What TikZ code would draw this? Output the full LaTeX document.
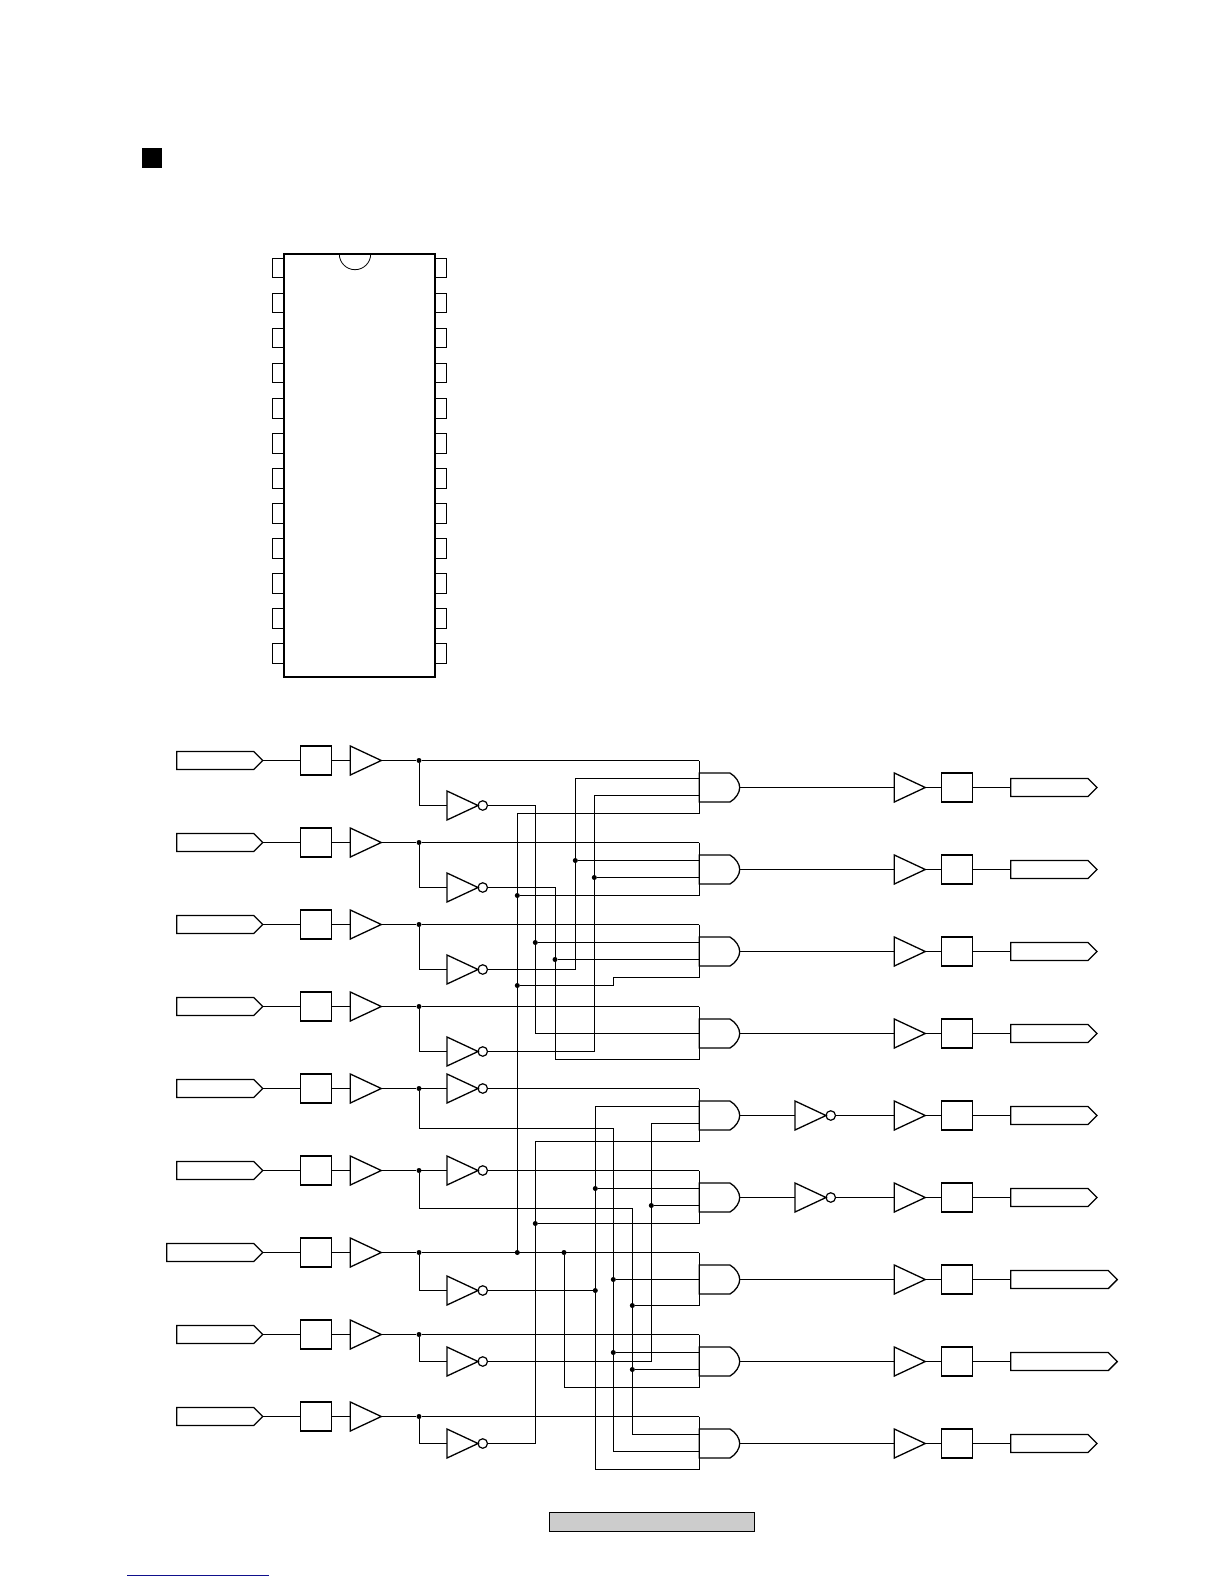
\documentclass[tikz,border=0pt]{standalone}
\usepackage{xcolor}
\usepackage{tikz}
\usetikzlibrary{shapes.geometric,shapes.symbols}
\definecolor{linkblue}{RGB}{15,15,140}
\tikzset{
    wire/.style={line width=1pt},
    dot/.style={circle,fill=black,inner sep=0pt,minimum size=5pt},
    tag/.style={signal,signal to=east,signal from=nowhere,draw,line width=1.3pt,inner sep=0pt,outer sep=0pt,minimum height=18pt},
    latch/.style={rectangle,draw,line width=1.3pt,inner sep=0pt,outer sep=0pt,minimum width=31pt,minimum height=29pt},
    buf/.style={isosceles triangle,isosceles triangle stretches,draw,line width=1.3pt,inner sep=0pt,outer sep=0pt,minimum width=29pt,minimum height=31pt,anchor=lower side},
    bub/.style={circle,draw,line width=1.2pt,inner sep=0pt,outer sep=0pt,minimum size=9.5pt,anchor=west},
    andbox/.style={rectangle,inner sep=0pt,outer sep=0pt,minimum width=40.4pt,minimum height=29pt,anchor=west},
    pin/.style={rectangle,draw,line width=.8pt,inner sep=0pt,outer sep=0pt,minimum width=11.5pt,minimum height=19.4pt}
}
\begin{document}
\begin{tikzpicture}[x=1pt,y=-1pt]
    \useasboundingbox (0,0) rectangle (1224,1584);
    \node[fill=black,inner sep=0pt,minimum size=20pt] (mark) at (152,158) {};
    \foreach \n in {0,...,11}{
        \node[pin,anchor=east] (lp\n) at (283.7,268+35.05*\n) {};
        \node[pin,anchor=west] (rp\n) at (435,268+35.05*\n) {};
    }
    \node[draw,line width=2pt,fill=white,inner sep=0pt,minimum width=151.3pt,minimum height=423pt] (ic) at (359.35,465.5) {};
    \draw[line width=.8pt] (339.3,254) arc[start angle=180,end angle=0,radius=15.7];
    \foreach \r/\w in {1/86,2/86,3/86,4/86,5/86,6/86,7/96,8/86,9/86}{
        \node[tag,minimum width=\w pt,anchor=east] (in\r) at (262.7,760.5+82*\r-82) {};
        \node[latch] (box\r) at (316.2,760.5+82*\r-82) {};
        \node[buf] (buf\r) at (350.3,760.5+82*\r-82) {};
        \node[dot] (jn\r) at (419,760.5+82*\r-82) {};
        \draw[wire] (in\r.east) -- (box\r.west);
        \draw[wire] (box\r.east) -- (buf\r.lower side);
        \draw[wire] (buf\r.apex) -- (jn\r);
    }
    \foreach \r/\d in {1/45,2/45,3/45,4/45,5/0,6/0,7/38,8/27,9/27}{
        \node[buf] (inv\r) at (447,760.5+82*\r-82+\d) {};
        \node[bub] (bub\r) at (inv\r.apex) {};
        \draw[wire] (jn\r) |- (inv\r.lower side);
    }
    \foreach \g in {1,...,9}{
        \node[andbox] (and\g) at (699.3,787.5+82*\g-82) {};
        \draw[line width=1.3pt,fill=white] (and\g.south west) -- (730,787.5+82*\g-82+14.5)
            .. controls (736,787.5+82*\g-82+11) and (739.7,787.5+82*\g-82+5) .. (and\g.east)
            .. controls (739.7,787.5+82*\g-82-5) and (736,787.5+82*\g-82-11) .. (730,787.5+82*\g-82-14.5)
            -- (and\g.north west) -- cycle;
        \coordinate (g\g a) at (699.3,760.5+82*\g-82);
        \coordinate (g\g b) at (699.3,778.5+82*\g-82);
        \coordinate (g\g c) at (699.3,795.5+82*\g-82);
        \coordinate (g\g d) at (699.3,813.5+82*\g-82);
        \node[buf] (obuf\g) at (894.3,787.5+82*\g-82) {};
        \node[latch] (obox\g) at (956.8,787.5+82*\g-82) {};
        \draw[wire] (obuf\g.apex) -- (obox\g.west);
    }
    \foreach \g in {1,2,3,5,6,8,9}{
        \draw[wire] (g\g a) -- (g\g d);
    }
    \foreach \g/\w in {1/86.3,2/86.3,3/86.3,4/86.3,5/86.3,6/86.3,7/106.6,8/106.6,9/86.3}{
        \node[tag,minimum width=\w pt,anchor=west] (out\g) at (1010.7,787.5+82*\g-82) {};
        \draw[wire] (obox\g.east) -- (out\g.west);
    }
    \foreach \g in {1,2,3,4,7,8,9}{
        \draw[wire] (and\g.east) -- (obuf\g.lower side);
    }
    \foreach \g in {5,6}{
        \node[buf] (oinv\g) at (795,787.5+82*\g-82) {};
        \node[bub] (obub\g) at (oinv\g.apex) {};
        \draw[wire] (and\g.east) -- (oinv\g.lower side);
        \draw[wire] (obub\g.east) -- (obuf\g.lower side);
    }
    \foreach \g in {1,2,3,4,7,8,9}{
        \draw[wire] (jn\g) -- (g\g a);
    }
    \draw[wire] (bub5.east) -- (g5a);
    \draw[wire] (bub6.east) -- (g6a);
    \coordinate (g4m) at (and4.west);
    \coordinate (g7m) at (and7.west);
    \coordinate (g4e) at (699.3,1059.5);
    \coordinate (g7e) at (699.3,1305.5);
    \draw[wire] (g4a) -- (g4e);
    \draw[wire] (g7a) -- (g7e);
    \coordinate (xa) at (517.3,0);
    \coordinate (xb) at (535.3,0);
    \coordinate (xc) at (555,0);
    \coordinate (xd) at (575.3,0);
    \coordinate (xe) at (594.3,0);
    \coordinate (xf) at (613.3,0);
    \coordinate (xg) at (632.3,0);
    \coordinate (xh) at (651.3,0);
    \coordinate (xi) at (564,0);
    \coordinate (xj) at (595.3,0);
    \coordinate (step) at (613.3,985.5);
    \coordinate (br5) at (613.3,1128.7);
    \coordinate (br6) at (632.3,1208.5);
    \coordinate (la) at (127,1575);
    \coordinate (lb) at (269,1575);
    \node[dot] (da) at (xa |- jn7) {};
    \node[dot] (db) at (xa |- g2d) {};
    \node[dot] (dc) at (xa |- step) {};
    \draw[wire] (da) |- (g1d);
    \draw[wire] (db) -- (g2d);
    \draw[wire] (dc) -- (step) -- (step |- g3d) -- (g3d);
    \node[dot] (dd) at (xb |- g3b) {};
    \node[dot] (de) at (xc |- g3c) {};
    \node[dot] (df) at (xd |- g2b) {};
    \node[dot] (dg) at (xe |- g2c) {};
    \draw[wire] (bub1.east) -| (xb |- g4m) -- (g4m);
    \draw[wire] (dd) -- (g3b);
    \draw[wire] (bub2.east) -| (xc |- g4e) -- (g4e);
    \draw[wire] (de) -- (g3c);
    \draw[wire] (bub3.east) -| (xd |- g1b) -- (g1b);
    \draw[wire] (df) -- (g2b);
    \draw[wire] (bub4.east) -| (xe |- g1c) -- (g1c);
    \draw[wire] (dg) -- (g2c);
    \node[dot] (dh) at (xb |- g6d) {};
    \node[dot] (di) at (xj |- g6b) {};
    \node[dot] (dj) at (xh |- g6c) {};
    \node[dot] (dk) at (xj |- bub7.east) {};
    \draw[wire] (bub9.east) -| (xb |- g5d) -- (g5d);
    \draw[wire] (dh) -- (g6d);
    \draw[wire] (g5b) -- (xj |- g5b) -- (xj |- g9d) -- (g9d);
    \draw[wire] (di) -- (g6b);
    \draw[wire] (bub7.east) -- (dk);
    \draw[wire] (bub8.east) -| (xh |- g5c) -- (g5c);
    \draw[wire] (dj) -- (g6c);
    \node[dot] (dl) at (xf |- g7m) {};
    \node[dot] (dm) at (xf |- g8b) {};
    \node[dot] (dn) at (xg |- g7e) {};
    \node[dot] (dp) at (xg |- g8c) {};
    \node[dot] (dq) at (xi |- jn7) {};
    \draw[wire] (jn5) |- (br5) -- (xf |- g9c) -- (g9c);
    \draw[wire] (jn6) |- (br6) -- (xg |- g9b) -- (g9b);
    \draw[wire] (dl) -- (g7m);
    \draw[wire] (dm) -- (g8b);
    \draw[wire] (dn) -- (g7e);
    \draw[wire] (dp) -- (g8c);
    \draw[wire] (dq) |- (g8d);
    \node[draw,line width=1pt,fill=black!20,inner sep=0pt,minimum width=205pt,minimum height=19pt] (pagebar) at (652,1522) {};
    \draw[linkblue,line width=1pt] (la) -- (lb);
\end{tikzpicture}
\end{document}
